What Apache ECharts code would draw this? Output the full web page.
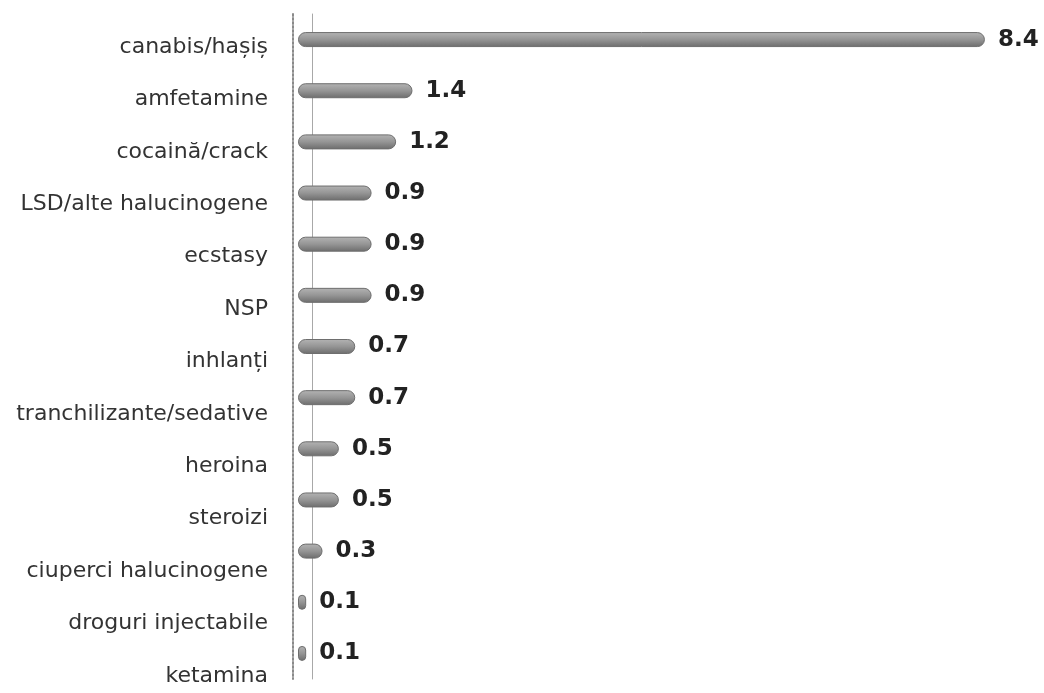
<!DOCTYPE html>
<html><head><meta charset="utf-8">
<script src="https://cdn.jsdelivr.net/npm/echarts@6/dist/echarts.min.js"></script>
<style>html,body{margin:0;padding:0;background:#fff}#c{width:1044px;height:693px}</style>
</head><body><div id="c"></div>
<script>
var categories = ["canabis/hașiș","amfetamine","cocaină/crack","LSD/alte halucinogene","ecstasy","NSP","inhlanți","tranchilizante/sedative","heroina","steroizi","ciuperci halucinogene","droguri injectabile","ketamina"];
var values = [8.4,1.4,1.2,0.9,0.9,0.9,0.7,0.7,0.5,0.5,0.3,0.1,0.1];

var chart = echarts.init(document.getElementById('c'));
chart.setOption({
  backgroundColor:'#ffffff',
  animation:false,
  grid:[
    {left:298, right:10, top:14, height:665},
    {left:298, right:10, top:47, height:629}
  ],
  xAxis:[
    {gridIndex:0, type:'value', min:0, max:9, show:false},
    {gridIndex:1, type:'value', min:0, max:9, show:false}
  ],
  yAxis:[
    {gridIndex:0, type:'category', inverse:true, data:categories, offset:5, position:'left',
     axisLine:{show:true, onZero:false, lineStyle:{color:'#8a8a8a', type:'dotted', width:2}},
     axisTick:{show:false}, axisLabel:{show:false}},
    {gridIndex:0, type:'category', inverse:true, data:categories, offset:-14, position:'left',
     axisLine:{show:true, onZero:false, lineStyle:{color:'#a8a8a8', width:1}},
     axisTick:{show:false}, axisLabel:{show:false}},
    {gridIndex:1, type:'category', inverse:true, data:categories, boundaryGap:false,
     axisLine:{show:false}, axisTick:{show:false},
     axisLabel:{margin:30, color:'#333', fontSize:22, fontFamily:'DejaVu Sans, sans-serif'}}
  ],
  series:[
    {type:'bar', xAxisIndex:0, yAxisIndex:0, data:values, barWidth:15, z:5,
     itemStyle:{borderRadius:7, borderColor:'#6e6e6e', borderWidth:1,
       color:new echarts.graphic.LinearGradient(0,0,0,1,[
         {offset:0,color:'#b4b4b4'},{offset:0.5,color:'#959595'},{offset:1,color:'#6c6c6c'}])},
     label:{show:true, position:'right', distance:13, color:'#222', fontWeight:'bold', fontSize:23,
       fontFamily:'DejaVu Sans, sans-serif', formatter:function(p){return p.value.toFixed(1);}}},
    {type:'bar', xAxisIndex:1, yAxisIndex:2, data:categories.map(function(){return null;}), silent:true}
  ]
});
</script></body></html>
